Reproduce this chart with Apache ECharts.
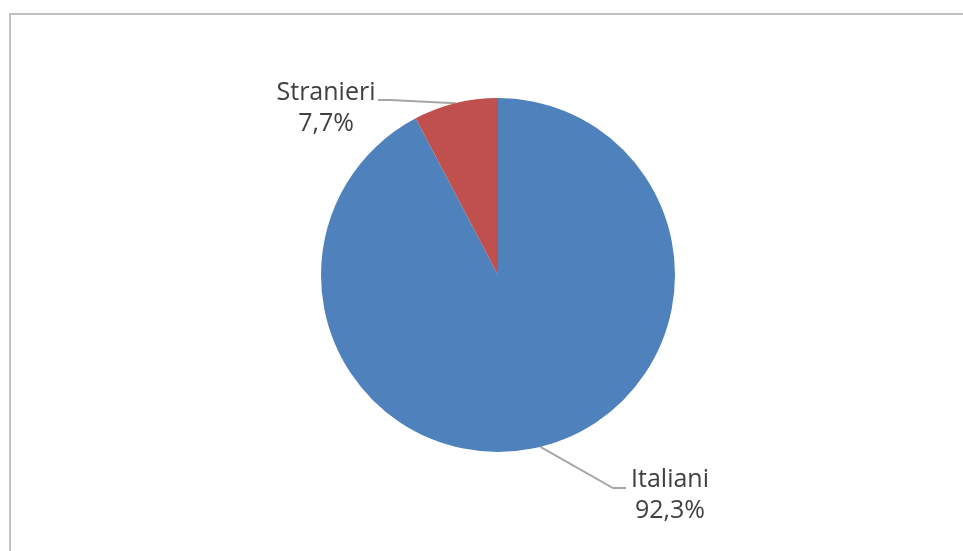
<!DOCTYPE html>
<html>
<head>
<meta charset="utf-8">
<script src="https://cdn.jsdelivr.net/npm/echarts@6/dist/echarts.min.js"></script>
<style>
html,body{margin:0;padding:0;background:#fff;}
#chart{width:963px;height:551px;}
</style>
</head>
<body>
<div id="chart"></div>
<script>
var categories = ['Italiani', 'Stranieri'];
var values = [92.3, 7.7];
var colors = ['#4F81BD', '#C0504D'];

// label placement (center of text block) and leader line end, per category
var labelSpots = {
  'Italiani':  { x: 670, y: 495, lineEndDx: -44, lineEndDy: -7, elbowDx: -57 },
  'Stranieri': { x: 326, y: 108, lineEndDx: 52, lineEndDy: -8, elbowDx: 64 }
};

var chart = echarts.init(document.getElementById('chart'));
chart.setOption({
  backgroundColor: '#ffffff',
  animation: false,
  graphic: [{
    type: 'rect',
    shape: { x: 10, y: 14, width: 1000, height: 600 },
    style: { fill: 'none', stroke: '#c0c0c0', lineWidth: 2 },
    silent: true
  }],
  series: [{
    type: 'pie',
    center: [498, 275],
    radius: 177,
    startAngle: 90,
    clockwise: true,
    data: categories.map(function (c, i) {
      return { name: c, value: values[i], itemStyle: { color: colors[i] } };
    }),
    label: {
      show: true,
      formatter: function (p) {
        return p.name + '\n' + p.percent.toFixed(1).replace('.', ',') + '%';
      },
      fontFamily: 'Open Sans',
      fontSize: 25,
      lineHeight: 31,
      color: '#404040',
      align: 'center'
    },
    labelLine: {
      show: true,
      length: 20,
      length2: 10,
      lineStyle: { color: '#a6a6a6', width: 2 }
    },
    labelLayout: function (params) {
      var s = labelSpots[categories[params.dataIndex]];
      var start = params.labelLinePoints ? params.labelLinePoints[0] : [0, 0];
      var ex = s.x + s.lineEndDx, ey = s.y + s.lineEndDy;
      return {
        x: s.x,
        y: s.y,
        align: 'center',
        verticalAlign: 'middle',
        labelLinePoints: [start, [ex + (s.elbowDx - s.lineEndDx), ey], [ex, ey]]
      };
    }
  }]
});
</script>
</body>
</html>
